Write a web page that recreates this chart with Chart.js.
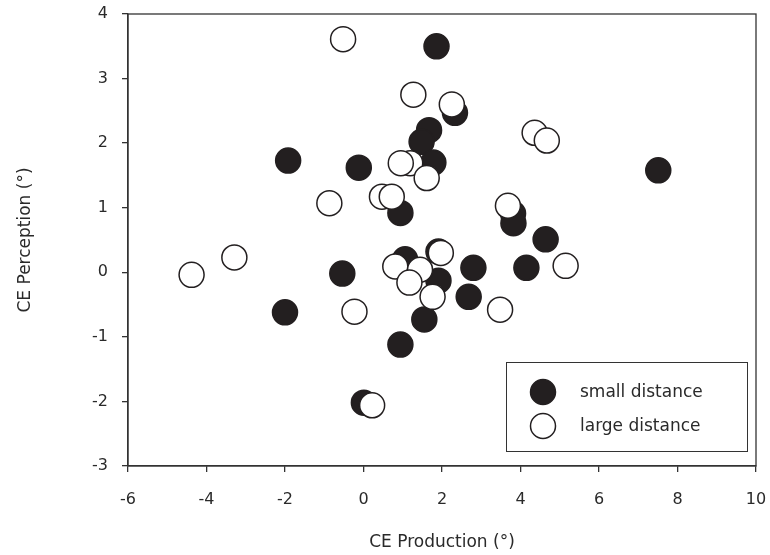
<!DOCTYPE html>
<html>
<head>
<meta charset="utf-8">
<title>CE Production vs CE Perception</title>
<script src="https://cdn.jsdelivr.net/npm/chart.js@4.4.1/dist/chart.umd.min.js"></script>
<style>
  html, body { margin: 0; padding: 0; background: #fff; }
  #wrap { width: 770px; height: 555px; }
</style>
</head>
<body>
<div id="wrap"><canvas id="scatter" width="770" height="555"></canvas></div>
<script>
// Constant errors per participant (degrees)
const smallProduction = [1.86, 2.33, 1.67, 1.48, 1.78, -1.92, -0.12, 0.94, 7.51, 3.81, 3.82, 4.64,
                         4.15, 2.80, 2.68, 1.55, 0.94, -2.00, -0.54, 0.01, 1.06, 1.91, 1.91];
const smallPerception = [3.50, 2.47, 2.20, 2.02, 1.70, 1.73, 1.62, 0.92, 1.58, 0.91, 0.76, 0.51,
                         0.07, 0.07, -0.38, -0.73, -1.12, -0.62, -0.02, -2.02, 0.20, 0.32, -0.13];

const largeProduction = [-0.52, 1.27, 2.25, 4.36, 4.67, 1.19, 0.95, 1.61, -0.87, 0.47, 0.72, 3.68,
                         5.15, 3.48, -4.38, -3.29, -0.23, 0.22, 0.81, 1.44, 1.17, 1.97, 1.76];
const largePerception = [3.61, 2.75, 2.60, 2.16, 2.04, 1.69, 1.69, 1.46, 1.07, 1.17, 1.17, 1.03,
                         0.10, -0.58, -0.04, 0.23, -0.61, -2.06, 0.09, 0.04, -0.16, 0.30, -0.38];

const xTicks = [-6, -4, -2, 0, 2, 4, 6, 8, 10];
const yTicks = [-3, -2, -1, 0, 1, 2, 3, 4];

const ink = '#231f20';
const axisColor = '#333';
const textColor = '#2a2a2a';
const fontFamily = '"DejaVu Sans", Verdana, sans-serif';

const toPoints = (xs, ys) => xs.map((x, i) => ({ x: x, y: ys[i] }));

// box around the plot area (top and right edges too)
const frame = {
    id: 'frame',
    afterDatasetsDraw(chart) {
        const { ctx, chartArea: a } = chart;
        ctx.save();
        ctx.strokeStyle = axisColor;
        ctx.lineWidth = 1.3;
        ctx.strokeRect(a.left, a.top, a.right - a.left, a.bottom - a.top);
        ctx.restore();
    }
};

// legend box in the lower right corner of the plot
const boxLegend = {
    id: 'boxLegend',
    afterDraw(chart) {
        const { ctx, chartArea: a } = chart;
        const w = 241, h = 89;
        const x0 = a.right - 9 - w, y0 = a.bottom - 15 - h;
        ctx.save();
        ctx.fillStyle = '#fff';
        ctx.fillRect(x0, y0, w, h);
        ctx.strokeStyle = axisColor;
        ctx.lineWidth = 1;
        ctx.strokeRect(x0 + 0.5, y0 + 0.5, w, h);
        ctx.font = '17px ' + fontFamily;
        ctx.textBaseline = 'middle';
        chart.data.datasets.forEach((ds, i) => {
            const cy = y0 + 30 + i * 34;
            ctx.beginPath();
            ctx.arc(x0 + 37, cy, ds.pointRadius, 0, Math.PI * 2);
            ctx.fillStyle = ds.backgroundColor;
            ctx.fill();
            ctx.lineWidth = ds.borderWidth;
            ctx.strokeStyle = ds.borderColor;
            ctx.stroke();
            ctx.fillStyle = textColor;
            ctx.fillText(ds.label, x0 + 74, cy + 1);
        });
        ctx.restore();
    }
};

const ctx = document.getElementById('scatter').getContext('2d');
const scatterChart = new Chart(ctx, {
    type: 'scatter',
    data: {
        datasets: [
            {
                label: 'small distance',
                data: toPoints(smallProduction, smallPerception),
                backgroundColor: ink,
                borderColor: ink,
                borderWidth: 1.5,
                pointRadius: 12.5,
                pointHoverRadius: 12.5,
                order: 2
            },
            {
                label: 'large distance',
                data: toPoints(largeProduction, largePerception),
                backgroundColor: '#ffffff',
                borderColor: ink,
                borderWidth: 1.5,
                pointRadius: 12.5,
                pointHoverRadius: 12.5,
                order: 1
            }
        ]
    },
    options: {
        responsive: false,
        animation: false,
        layout: { padding: { top: 12, right: 11, left: 0, bottom: 0 } },
        plugins: {
            legend: { display: false },
            tooltip: { enabled: false }
        },
        scales: {
            x: {
                type: 'linear',
                min: xTicks[0],
                max: xTicks[xTicks.length - 1],
                afterFit: s => { s.height = 89; s.paddingLeft = 0; s.paddingRight = 0; },
                afterBuildTicks: s => { s.ticks = xTicks.map(v => ({ value: v })); },
                ticks: {
                    padding: 18,
                    color: textColor,
                    font: { family: fontFamily, size: 16 }
                },
                grid: { drawOnChartArea: false, drawTicks: true, tickLength: 6, color: axisColor, lineWidth: 1.3 },
                border: { display: true, color: axisColor, width: 1.3 },
                title: {
                    display: true,
                    text: 'CE Production (°)',
                    color: textColor,
                    font: { family: fontFamily, size: 17 },
                    padding: { top: 0, bottom: 2 }
                }
            },
            y: {
                type: 'linear',
                min: yTicks[0],
                max: yTicks[yTicks.length - 1],
                afterFit: s => { s.width = 128; s.paddingTop = 0; s.paddingBottom = 0; },
                afterBuildTicks: s => { s.ticks = yTicks.map(v => ({ value: v })); },
                ticks: {
                    padding: 14,
                    color: textColor,
                    font: { family: fontFamily, size: 16 }
                },
                grid: { drawOnChartArea: false, drawTicks: true, tickLength: 6, color: axisColor, lineWidth: 1.3 },
                border: { display: true, color: axisColor, width: 1.3 },
                title: {
                    display: true,
                    text: 'CE Perception (°)',
                    color: textColor,
                    font: { family: fontFamily, size: 17 },
                    padding: { top: 15, bottom: 0 }
                }
            }
        }
    },
    plugins: [frame, boxLegend]
});
</script>
</body>
</html>
